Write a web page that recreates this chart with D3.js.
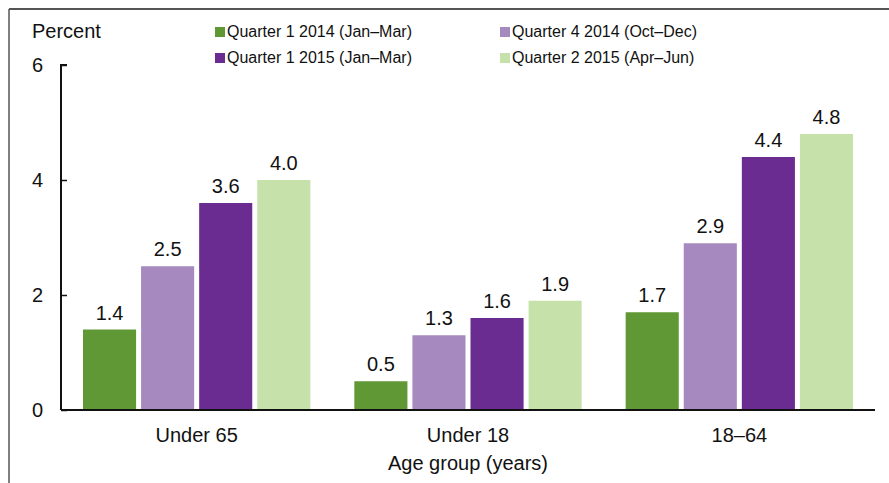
<!DOCTYPE html>
<html>
<head>
<meta charset="utf-8">
<title>Age group chart</title>
<style>
body { margin: 0; background: #fff; }
text { font-family: Arial, "Liberation Sans", sans-serif; fill: #111; }
</style>
</head>
<body>
<script src="https://cdn.jsdelivr.net/npm/d3@7"></script>
<script>
// data
var groups = ["Under 65", "Under 18", "18\u201364"];
var series = ["Quarter 1 2014 (Jan\u2013Mar)", "Quarter 4 2014 (Oct\u2013Dec)", "Quarter 1 2015 (Jan\u2013Mar)", "Quarter 2 2015 (Apr\u2013Jun)"];
var q1_2014 = [1.4, 0.5, 1.7];
var q4_2014 = [2.5, 1.3, 2.9];
var q1_2015 = [3.6, 1.6, 4.4];
var q2_2015 = [4.0, 1.9, 4.8];
var yTicks = [0, 2, 4, 6];
var colors = ["#5f9834", "#a689bf", "#6a2c91", "#c6e2aa"];

var values = [q1_2014, q4_2014, q1_2015, q2_2015];

var w = 889, h = 483;
var x0 = 61, x1 = 875; // plot left / right
var yTop = 65, yBot = 410;

var svg = d3.select("body").append("svg").attr("width", w).attr("height", h);

// frame
svg.append("line").attr("x1", 9).attr("x2", w).attr("y1", 9).attr("y2", 9)
  .attr("stroke", "#555").attr("stroke-width", 2);
svg.append("line").attr("x1", 9).attr("x2", 9).attr("y1", 9).attr("y2", h)
  .attr("stroke", "#555").attr("stroke-width", 1.5);

var yScale = d3.scaleLinear().domain([0, 6]).range([yBot, yTop]);
var xGroup = d3.scaleBand().domain(groups).range([x0, x1]).padding(0);
var pad = 22;
var xSeries = d3.scaleBand().domain(d3.range(series.length))
  .range([pad, xGroup.bandwidth() - pad]).paddingInner(0.086).paddingOuter(0);

// bars
var data = [];
groups.forEach(function(g, gi) {
  series.forEach(function(s, si) {
    data.push({group: g, s: si, value: values[si][gi]});
  });
});

var bars = svg.append("g");
bars.selectAll("rect").data(data).enter().append("rect")
  .attr("x", function(d) { return xGroup(d.group) + xSeries(d.s); })
  .attr("y", function(d) { return yScale(d.value); })
  .attr("width", xSeries.bandwidth())
  .attr("height", function(d) { return yBot - yScale(d.value); })
  .attr("fill", function(d) { return colors[d.s]; });

bars.selectAll("text").data(data).enter().append("text")
  .attr("x", function(d) { return xGroup(d.group) + xSeries(d.s) + xSeries.bandwidth() / 2; })
  .attr("y", function(d) { return yScale(d.value) - 10; })
  .attr("text-anchor", "middle")
  .attr("font-size", "20px")
  .text(function(d) { return d.value.toFixed(1); });

// y axis
var yAxis = d3.axisRight(yScale).tickValues(yTicks).tickSize(6).tickFormat("");
var ag = svg.append("g").attr("transform", "translate(" + x0 + ",0)").call(yAxis);
ag.select(".domain").attr("d", "M6," + yTop + "H0V" + yBot).attr("stroke", "#111").attr("stroke-width", 2);
ag.selectAll(".tick line").attr("stroke", "#111").attr("stroke-width", 1.5);

svg.append("g").selectAll("text").data(yTicks).enter().append("text")
  .attr("x", 43).attr("y", function(d) { return yScale(d); })
  .attr("dy", "0.35em")
  .attr("text-anchor", "end")
  .attr("font-size", "20px")
  .text(function(d) { return d; });

// baseline
svg.append("line").attr("x1", x0).attr("x2", x1).attr("y1", yBot).attr("y2", yBot)
  .attr("stroke", "#111").attr("stroke-width", 2);

// category labels
svg.append("g").selectAll("text").data(groups).enter().append("text")
  .attr("x", function(d) { return xGroup(d) + xGroup.bandwidth() / 2; })
  .attr("y", 442)
  .attr("text-anchor", "middle")
  .attr("font-size", "20px")
  .text(function(d) { return d; });

svg.append("text").attr("x", xGroup("Under 18") + xGroup.bandwidth() / 2).attr("y", 470)
  .attr("text-anchor", "middle").attr("font-size", "20px").text("Age group (years)");

svg.append("text").attr("x", 32).attr("y", 38).attr("font-size", "20px").text("Percent");

// legend
var legX = [215, 500], legY = [37, 63];
var leg = svg.append("g").selectAll("g").data(series).enter().append("g")
  .attr("transform", function(d, i) { return "translate(" + legX[i % 2] + "," + legY[Math.floor(i / 2)] + ")"; });
leg.append("rect").attr("x", 0).attr("y", -10).attr("width", 10).attr("height", 10)
  .attr("fill", function(d, i) { return colors[i]; });
leg.append("text").attr("x", 12).attr("y", 0).attr("font-size", "16px").text(function(d) { return d; });
</script>
</body>
</html>
